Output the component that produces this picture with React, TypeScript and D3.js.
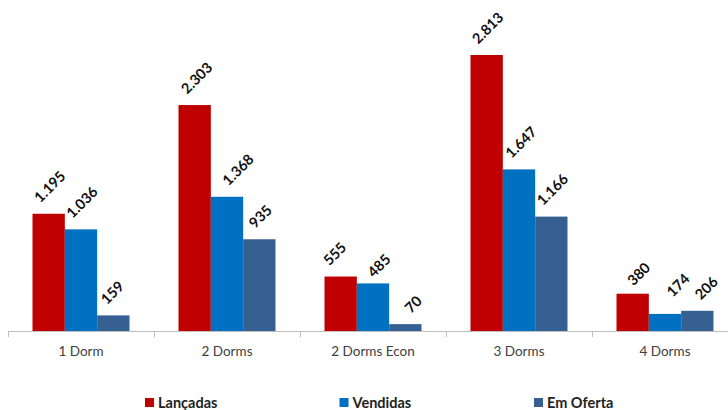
import React from "react";
import * as d3 from "d3";

const categories = ["1 Dorm", "2 Dorms", "2 Dorms Econ", "3 Dorms", "4 Dorms"];
const seriesNames = ["Lançadas", "Vendidas", "Em Oferta"];
const lancadas = [1195, 2303, 555, 2813, 380];
const vendidas = [1036, 1368, 485, 1647, 174];
const emOferta = [159, 935, 70, 1166, 206];
const seriesValues = [lancadas, vendidas, emOferta];
const seriesColors = ["#C00000", "#0070C0", "#376092"];

// small per-label nudges (px) seen in the source layout
const labelDx = [
  [1, 2, -6, 1, 6],
  [1, 11, 6, 2, 13],
  [-1, 1, 8, 1, 9],
];
const labelDy = [
  [0, 0, 0, 0, 3],
  [0, 0, 5, 0, -6],
  [0, 0, 0, 0, 0],
];

const fmt = (v: number) => {
  const s = String(v);
  return s.length > 3 ? s.slice(0, s.length - 3) + "." + s.slice(-3) : s;
};

const W = 728;
const H = 410;
const axisY = 331;
const FONT = "Lato, 'Open Sans', sans-serif";

export default function App() {
  const x = d3.scaleBand<string>().domain(categories).range([8, 738]).padding(0);
  const inner = d3
    .scaleBand<string>()
    .domain(seriesNames)
    .range([24.5, x.bandwidth() - 24.5])
    .padding(0);
  const y = d3.scaleLinear().domain([0, 2813]).range([axisY, 55]);

  const labelFont = 14.5;
  const estWidth = (s: string) =>
    s.split("").reduce((a, c) => a + (c === "." ? 0.26 : 0.58), 0) * labelFont;

  return (
    <svg
      width={W}
      height={H}
      style={{ position: "fixed", left: 0, top: 0, background: "#fff" }}
    >
      <rect x={0} y={0} width={W} height={H} fill="#fff" />
      {seriesValues.map((vals, si) =>
        vals.map((v, ci) => {
          const bx = (x(categories[ci]) as number) + (inner(seriesNames[si]) as number);
          const bw = inner.bandwidth();
          return (
            <rect
              key={`b${si}-${ci}`}
              x={bx}
              y={y(v)}
              width={bw}
              height={axisY - y(v)}
              fill={seriesColors[si]}
            />
          );
        })
      )}
      {/* axis */}
      <line x1={8} x2={W} y1={axisY + 0.5} y2={axisY + 0.5} stroke="#BFBFBF" strokeWidth={1} />
      {categories.map((c) => {
        const tx = Math.round(x(c) as number) + 0.5;
        return (
          <line key={`t${c}`} x1={tx} x2={tx} y1={axisY} y2={axisY + 6} stroke="#BFBFBF" strokeWidth={1} />
        );
      })}
      {categories.map((c) => (
        <text
          key={`c${c}`}
          x={(x(c) as number) + x.bandwidth() / 2}
          y={356}
          textAnchor="middle"
          fontFamily={FONT}
          fontSize={13.5}
          fill="#404040"
        >
          {c}
        </text>
      ))}
      {/* value labels */}
      {seriesValues.map((vals, si) =>
        vals.map((v, ci) => {
          const label = fmt(v);
          const bx = (x(categories[ci]) as number) + (inner(seriesNames[si]) as number);
          const cx = bx + inner.bandwidth() / 2 + labelDx[si][ci];
          const w = estWidth(label);
          const bboxH = (w + 11) / Math.SQRT2;
          const cy = y(v) - 10 - bboxH / 2 + labelDy[si][ci];
          return (
            <text
              key={`l${si}-${ci}`}
              transform={`translate(${cx},${cy}) rotate(-45)`}
              textAnchor="middle"
              dy="0.36em"
              fontFamily={FONT}
              fontWeight="bold"
              fontSize={labelFont}
              fill="#111"
            >
              {label}
            </text>
          );
        })
      )}
      {/* legend */}
      {seriesNames.map((n, i) => {
        const lx = 145 + i * 194.5;
        return (
          <g key={`lg${n}`}>
            <rect x={lx} y={398} width={9} height={9} fill={seriesColors[i]} />
            <text
              x={lx + 13}
              y={408}
              fontFamily={FONT}
              fontWeight="bold"
              fontSize={14.5}
              fill="#222"
            >
              {n}
            </text>
          </g>
        );
      })}
    </svg>
  );
}
